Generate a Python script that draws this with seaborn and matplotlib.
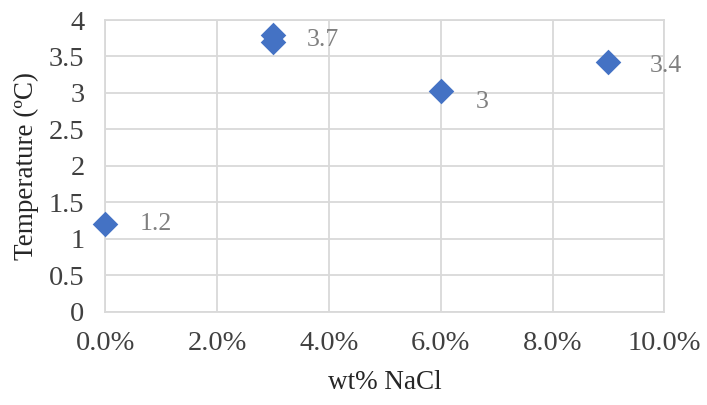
import matplotlib
matplotlib.use("Agg")
import matplotlib.pyplot as plt
import seaborn as sns
import pandas as pd
from matplotlib.ticker import FuncFormatter, MultipleLocator

# Measured freezing-point temperatures vs. salt concentration
nacl_wt = [0.0, 0.03, 0.03, 0.06, 0.09]
temperature = [1.2, 3.7, 3.8, 3.03, 3.42]
point_labels = ["1.2", "3.7", "", "3", "3.4"]
label_offsets = [(25, 0), (24, 1), (0, 0), (25, -8), (30, -3)]

df = pd.DataFrame({"wt": nacl_wt, "temp": temperature})

sns.set_theme(style="white")
plt.rcParams["font.family"] = ["Liberation Serif", "DejaVu Serif"]

fig = plt.figure(figsize=(7.07, 4.05), dpi=100)
ax = fig.add_axes([0.149, 0.2304, 0.7907, 0.7202])

grid_color = "#D9D9D9"
text_color = "#7F7F7F"
blue = "#4472C4"

sns.scatterplot(data=df, x="wt", y="temp", ax=ax, marker="D", s=170,
                color=blue, edgecolor=blue, linewidth=0, zorder=3,
                legend=False, clip_on=False)

for x, y, lab, off in zip(nacl_wt, temperature, point_labels, label_offsets):
    if lab:
        ax.annotate(lab, (x, y), xytext=off, textcoords="offset points",
                    ha="left", va="center", fontsize=18.5, color=text_color)

ax.set_xlim(0, 0.10)
ax.set_ylim(0, 4)
ax.xaxis.set_major_locator(MultipleLocator(0.02))
ax.yaxis.set_major_locator(MultipleLocator(0.5))
ax.xaxis.set_major_formatter(FuncFormatter(lambda v, p: f"{v*100:.1f}%"))
ax.yaxis.set_major_formatter(FuncFormatter(lambda v, p: f"{v:g}"))

ax.grid(True, color=grid_color, linewidth=1.3)
ax.set_axisbelow(True)
for side in ["top", "right", "bottom", "left"]:
    ax.spines[side].set_visible(True)
    ax.spines[side].set_color(grid_color)
    ax.spines[side].set_linewidth(1.3)

ax.tick_params(axis="both", length=0, labelsize=20.5, labelcolor="#404040")
ax.tick_params(axis="x", pad=14)
ax.tick_params(axis="y", pad=15)

ax.set_xlabel("wt% NaCl", fontsize=19.5, color="#262626", labelpad=10)
ax.set_ylabel("Temperature (ºC)", fontsize=19.5, color="#262626", labelpad=7)

fig.savefig("out.png", dpi=100)
